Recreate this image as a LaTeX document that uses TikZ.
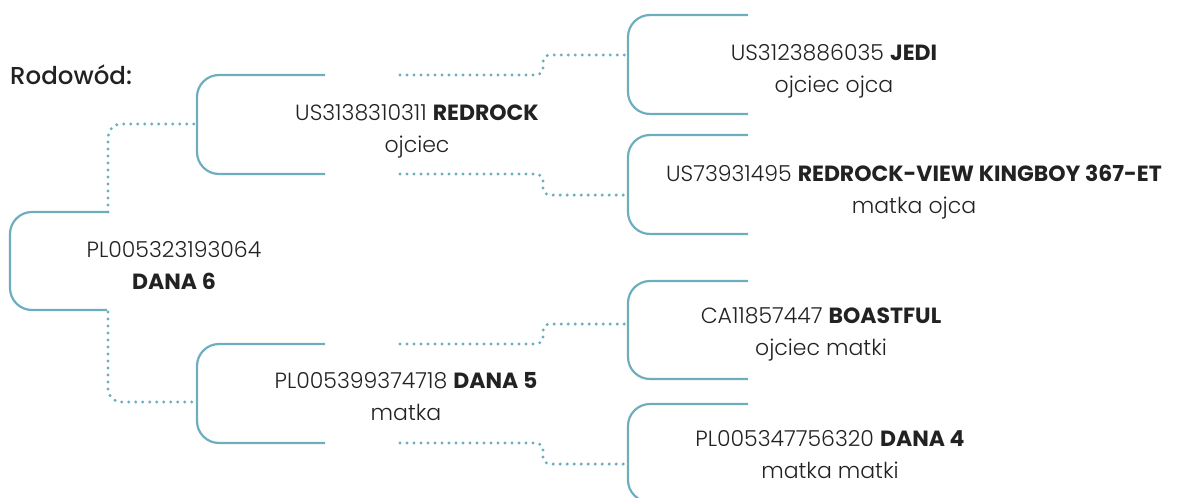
\documentclass[tikz,border=0pt]{standalone}
\usepackage{fontspec}
\setmainfont{Poppins}[UprightFont=* Light, BoldFont=* Bold]
\newfontfamily\medfont{Poppins Medium}
\usetikzlibrary{positioning}
\definecolor{lineblue}{RGB}{108,174,189}
\definecolor{ink}{RGB}{34,34,34}

\begin{document}
\begin{tikzpicture}[x=1pt,y=-1pt,
    bracket/.style={draw=lineblue,line width=2.2pt,rounded corners=22pt},
    link/.style={draw=lineblue,line width=3.3pt,line cap=round,dash pattern=on 0pt off 7pt,rounded corners=13pt},
    step link/.style={link,rounded corners=7pt},
    txt/.style={align=center,text=ink,inner sep=0pt,font=\fontsize{22}{32}\selectfont}]
  \useasboundingbox (0,0) rectangle (1179,498);

  % title
  \node[txt,anchor=west,font=\medfont\fontsize{24.5}{30}\selectfont] (title) at (10,75) {Rodowód:};

  % animals
  \node[txt] (dana6) at (174,265) {PL005323193064\\\textbf{DANA 6}};
  \node[txt] (redrock) at (417,131) {US3138310311 \textbf{REDROCK}\\ojciec};
  \node[txt] (dana5) at (406,397) {PL005399374718 \textbf{DANA 5}\\matka};
  \node[txt] (jedi) at (834,71) {US3123886035 \textbf{JEDI}\\ojciec ojca};
  \node[txt] (kingboy) at (914,192) {US73931495 \textbf{REDROCK-VIEW KINGBOY 367-ET}\\matka ojca};
  \node[txt] (boastful) at (821,334) {CA11857447 \textbf{BOASTFUL}\\ojciec matki};
  \node[txt] (dana4) at (830,454.5) {PL005347756320 \textbf{DANA 4}\\matka matki};

  % brackets
  \draw[bracket] (107,212) -| (10,310) -- (107,310);
  \draw[bracket] (325,75) -| (197,174) -- (325,174);
  \draw[bracket] (325,344) -| (197,443) -- (325,443);
  \draw[bracket] (748,15) -| (628,114) -- (748,114);
  \draw[bracket] (748,135) -| (628,234) -- (748,234);
  \draw[bracket] (748,281) -| (628,379) -- (748,379);
  \draw[bracket] (748,404) -| (628,502) -- (748,502);

  % ends of the brackets
  \coordinate (dana6-up) at (108,212);
  \coordinate (dana6-dn) at (108,312);
  \coordinate (redrock-in) at (197,124);
  \coordinate (dana5-in) at (197,402);
  \coordinate (redrock-up) at (400,75);
  \coordinate (redrock-dn) at (400,174);
  \coordinate (dana5-up) at (400,344);
  \coordinate (dana5-dn) at (400,443);
  \coordinate (jedi-in) at (628,55);
  \coordinate (kingboy-in) at (628,195);
  \coordinate (boastful-in) at (628,324);
  \coordinate (dana4-in) at (628,464);

  % dotted links
  \draw[link] (dana6-up) |- (redrock-in);
  \draw[link] (dana6-dn) |- (dana5-in);
  \draw[step link] (redrock-up) -- ++(143,0) |- (jedi-in);
  \draw[step link] (redrock-dn) -- ++(143,0) |- (kingboy-in);
  \draw[step link] (dana5-up) -- ++(143,0) |- (boastful-in);
  \draw[step link] (dana5-dn) -- ++(143,0) |- (dana4-in);
\end{tikzpicture}
\end{document}
